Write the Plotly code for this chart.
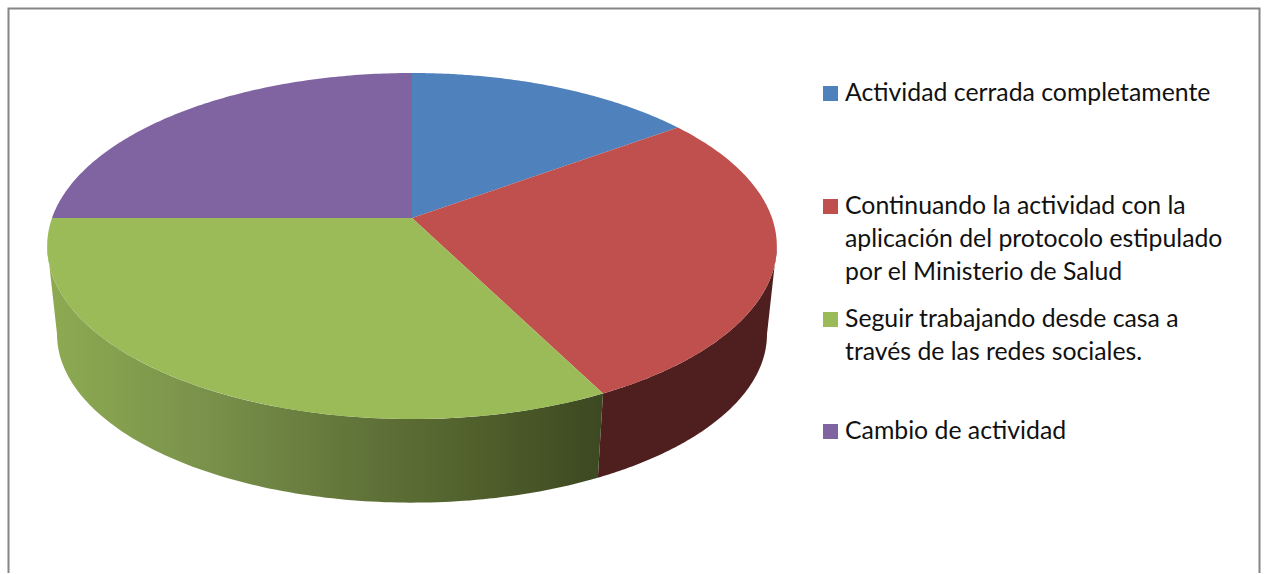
import numpy as np
import plotly.graph_objects as go

# porcentajes
categorias = [
    "Actividad cerrada completamente",
    "Continuando la actividad con la aplicación del protocolo estipulado por el Ministerio de Salud",
    "Seguir trabajando desde casa a través de las redes sociales.",
    "Cambio de actividad",
]
valores = [15, 27.5, 32.5, 25]
lineas_leyenda = [
    ["Actividad cerrada completamente"],
    ["Continuando la actividad con la", "aplicación del protocolo estipulado", "por el Ministerio de Salud"],
    ["Seguir trabajando desde casa a", "través de las redes sociales."],
    ["Cambio de actividad"],
]
colores = ["#4F81BD", "#C0504D", "#9BBB59", "#8064A2"]
y_leyenda = [93, 206, 319, 431]

# geometria de la tarta en pixeles, con perspectiva
CX, CY = 412, 218
R, S, K = 360, 168.5, 0.162
BASE_CY, BASE_ESCALA = 307, 0.973
ANG_DER, ANG_IZQ = 99.3, 260.7


def proyectar(angulos, cy=CY, escala=1.0):
    t = np.radians(angulos)
    d = 1 + K * np.cos(t)
    return CX + escala * R * np.sin(t) / d, cy - escala * S * np.cos(t) / d


def lado(a0, a1):
    # pared lateral entre dos angulos
    ang = np.linspace(a0, a1, 120)
    x1, y1 = proyectar(ang)
    x2, y2 = proyectar(ang[::-1], BASE_CY, BASE_ESCALA)
    return np.r_[x1, x2], np.r_[y1, y2]


limites = np.cumsum([0] + valores) / sum(valores) * 360

fig = go.Figure()

# paredes laterales
corte = limites[2]
x, y = lado(ANG_DER, corte)
fig.add_trace(go.Scatter(x=x, y=y, fill='toself', mode='none', fillcolor='#4E1F1E', hoverinfo='skip'))
x, y = lado(corte, ANG_IZQ)
fig.add_trace(go.Scatter(
    x=x, y=y, fill='toself', mode='none', hoverinfo='skip',
    fillgradient=dict(
        type='horizontal', start=46, stop=604,
        colorscale=[[0, '#8EAB52'], [0.3, '#78904A'], [0.55, '#62753A'], [0.75, '#52622D'], [1, '#3C4821']]
    )
))

# cara superior
for i, nombre in enumerate(categorias):
    ang = np.linspace(limites[i], limites[i + 1], 120)
    x, y = proyectar(ang)
    fig.add_trace(go.Scatter(
        x=np.r_[CX, x, CX], y=np.r_[CY, y, CY], name=nombre,
        fill='toself', mode='none', fillcolor=colores[i],
        hoverinfo='name'
    ))

# leyenda
shapes = [dict(type='path', path='M8.5,573 L8.5,8.5 L1259.5,8.5 L1259.5,573',
               line=dict(color='#868686', width=2))]
annotations = []
for lineas, color, y0 in zip(lineas_leyenda, colores, y_leyenda):
    shapes.append(dict(type='rect', x0=823, x1=838, y0=y0 - 7, y1=y0 + 8,
                       fillcolor=color, line=dict(width=0)))
    for j, texto in enumerate(lineas):
        annotations.append(dict(x=845, y=y0 + j * 33 - 1.5, text=texto, showarrow=False,
                                xanchor='left', yanchor='middle', xshift=-2,
                                font=dict(family='Lato', size=24.8, color='#111111')))

fig.update_layout(
    width=1264, height=574,
    margin=dict(t=0, b=0, l=0, r=0),
    paper_bgcolor='white', plot_bgcolor='white',
    showlegend=False,
    xaxis=dict(range=[0, 1264], visible=False, fixedrange=True),
    yaxis=dict(range=[574, 0], visible=False, fixedrange=True),
    shapes=shapes, annotations=annotations
)

fig.write_html("out.html", config=dict(displayModeBar=False),
               post_script="document.body.style.margin='0';document.body.style.overflow='hidden';")
